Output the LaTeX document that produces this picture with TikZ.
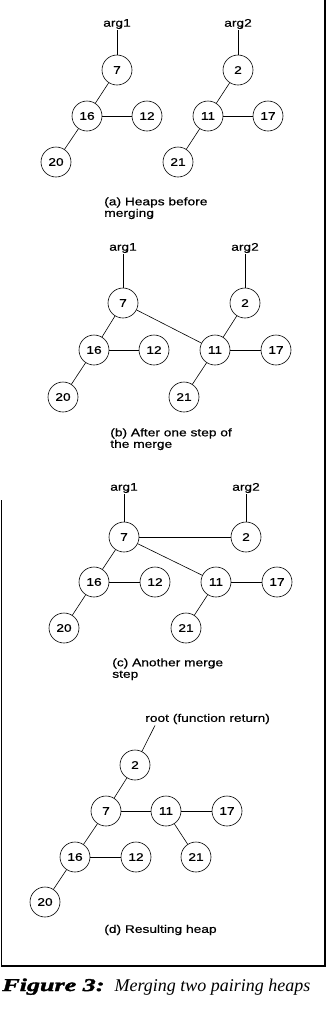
\documentclass[tikz,border=0pt]{standalone}
\usepackage{fontspec}
\setmainfont{Liberation Serif}
\setsansfont{Liberation Sans}[FakeStretch=1.25, FakeBold=0.6]
\newfontfamily\figfont{Liberation Serif}[FakeStretch=1.45, FakeBold=2]
\usetikzlibrary{calc}
\begin{document}
\begin{tikzpicture}[x=1pt,y=-1pt,
  lab/.style={font=\sffamily\fontsize{11}{11.5}\selectfont},
  hn/.style={circle, draw, line width=0.6pt, minimum size=30pt, inner sep=0pt, lab},
  ptr/.style={lab, inner sep=1pt},
  subcap/.style={lab, align=left, anchor=north west, inner sep=0pt},
  every path/.style={line width=0.6pt}]
\useasboundingbox (0,0) rectangle (333,1013);
% frame
\draw[line width=1.3pt] (325,0) -- (325,966) -- (1,966);
\draw[line width=0.5pt] (1,966) -- (1,500);
% ---------- (a)
\node[ptr] (aarg1) at (117,24) {arg1};
\node[ptr] (aarg2) at (238,24) {arg2};
\node[hn] (a7) at (117,70) {7};
\node[hn] (a2) at (238,70) {2};
\node[hn] (a16) at (87,116) {16};
\node[hn] (a12) at (147,116) {12};
\node[hn] (a11) at (208,116) {11};
\node[hn] (a17) at (268,116) {17};
\node[hn] (a20) at (56,162) {20};
\node[hn] (a21) at (178,162) {21};
\draw (aarg1) -- (a7);
\draw (aarg2) -- (a2);
\draw (a7) -- (a16);
\draw (a16) -- (a12);
\draw (a16) -- (a20);
\draw (a2) -- (a11);
\draw (a11) -- (a17);
\draw (a11) -- (a21);
\node[subcap] (capa) at (104,197) {(a) Heaps before\\merging};
% ---------- (b)
\node[ptr] (barg1) at (123,248) {arg1};
\node[ptr] (barg2) at (245,248) {arg2};
\node[hn] (b7) at (123,303) {7};
\node[hn] (b2) at (245,303) {2};
\node[hn] (b16) at (94,350) {16};
\node[hn] (b12) at (154,350) {12};
\node[hn] (b11) at (215,350) {11};
\node[hn] (b17) at (276,350) {17};
\node[hn] (b20) at (63,397) {20};
\node[hn] (b21) at (184,397) {21};
\draw (barg1) -- (b7);
\draw (barg2) -- (b2);
\draw (b7) -- (b16);
\draw (b7) -- (b11);
\draw (b16) -- (b12);
\draw (b16) -- (b20);
\draw (b2) -- (b11);
\draw (b11) -- (b17);
\draw (b11) -- (b21);
\node[subcap] (capb) at (110,428) {(b) After one step of\\the merge};
% ---------- (c)
\node[ptr] (carg1) at (124,488) {arg1};
\node[ptr] (carg2) at (246,488) {arg2};
\node[hn] (c7) at (124,537) {7};
\node[hn] (c2) at (246,537) {2};
\node[hn] (c16) at (94,582) {16};
\node[hn] (c12) at (155,582) {12};
\node[hn] (c11) at (216,582) {11};
\node[hn] (c17) at (277,582) {17};
\node[hn] (c20) at (64,628) {20};
\node[hn] (c21) at (186,628) {21};
\draw (carg1) -- (c7);
\draw (carg2) -- (c2);
\draw (c7) -- (c2);
\draw (c7) -- (c16);
\draw (c7) -- (c11);
\draw (c16) -- (c12);
\draw (c16) -- (c20);
\draw (c11) -- (c17);
\draw (c11) -- (c21);
\node[subcap] (capc) at (112,658) {(c) Another merge\\step};
% ---------- (d)
\node[ptr, anchor=west] (droot) at (144,719) {root (function return)};
\node[hn] (d2) at (135,765) {2};
\node[hn] (d7) at (106,811) {7};
\node[hn] (d11) at (166,811) {11};
\node[hn] (d17) at (227,811) {17};
\node[hn] (d16) at (75,857) {16};
\node[hn] (d12) at (136,857) {12};
\node[hn] (d21) at (196,857) {21};
\node[hn] (d20) at (45,902) {20};
\draw ([xshift=11pt]droot.south west) -- (d2);
\draw (d2) -- (d7);
\draw (d7) -- (d11);
\draw (d11) -- (d17);
\draw (d11) -- (d21);
\draw (d7) -- (d16);
\draw (d16) -- (d12);
\draw (d16) -- (d20);
\node[lab, anchor=west, inner sep=0pt] (capd) at (104,930) {(d) Resulting heap};
% ---------- caption
\node[anchor=base west, inner sep=0pt, font=\itshape\fontsize{18}{20}\selectfont] (fig) at (2,991) {{\figfont\bfseries\itshape Figure 3:}\hspace{4pt} Merging two pairing heaps};
\end{tikzpicture}
\end{document}
